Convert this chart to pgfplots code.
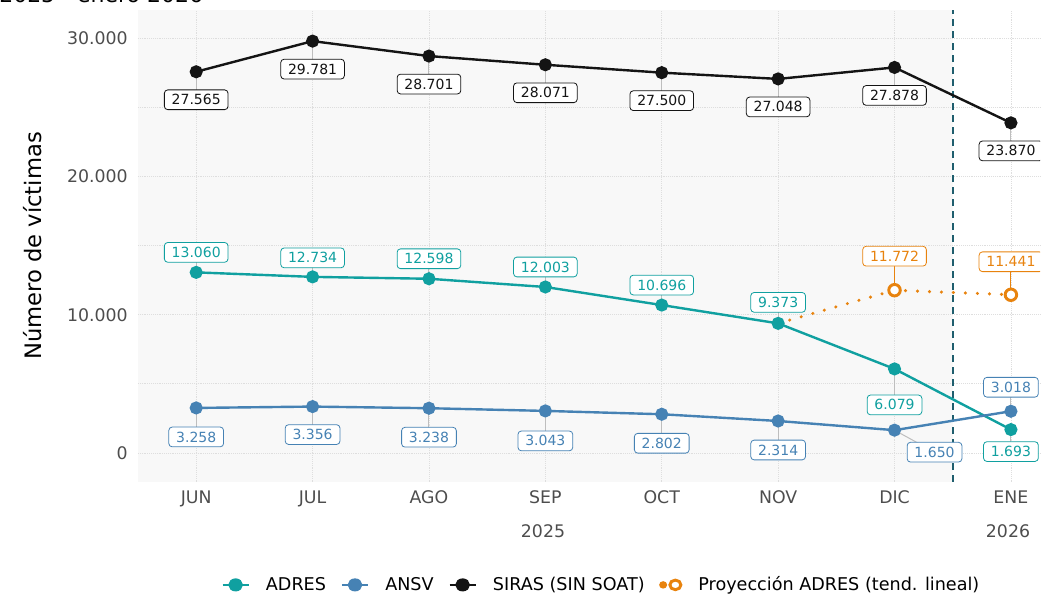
\documentclass[border=0pt]{standalone}
\usepackage{fontspec}
\setmainfont{DejaVu Sans}
\usepackage{pgfplots}
\pgfplotsset{compat=1.18}
\definecolor{adres}{RGB}{16,160,160}
\definecolor{ansv}{RGB}{70,130,180}
\definecolor{proy}{RGB}{232,131,14}
\definecolor{siras}{RGB}{20,20,20}
\definecolor{vlinec}{RGB}{31,94,110}
\definecolor{panel}{RGB}{248,248,248}
\definecolor{gridc}{RGB}{222,222,222}
\definecolor{tickc}{RGB}{77,77,77}
\definecolor{leader}{RGB}{190,190,190}
\tikzset{labbox/.style={fill=white, rounded corners=2.5pt, line width=0.6pt,
  inner xsep=5.5pt, inner ysep=3.6pt, text height=7.6pt, text depth=0pt,
  font=\fontsize{10.5}{12}\selectfont}}
% x, y, dx(px), dy(px), colour, leader colour, text
\newcommand\lab[7]{%
  \begin{pgfonlayer}{pre main}
  \draw[#6, line width=0.75pt] (axis cs:#1,#2) -- ([xshift=#3*0.75pt, yshift=#4*0.75pt]axis cs:#1,#2);
  \end{pgfonlayer}
  \node[labbox, draw=#5, text=#5, xshift=#3*0.75pt, yshift=#4*0.75pt] at (axis cs:#1,#2) {#7};
}
\begin{document}
\begin{tikzpicture}[x=0.75pt,y=0.75pt]
\begin{axis}[
  set layers,
  at={(103.5pt,84.75pt)}, anchor=south west,
  scale only axis, width=676.5pt, height=354pt,
  xmin=-0.5, xmax=7.25, ymin=-2097, ymax=32032,
  axis line style={draw=none}, tick style={draw=none},
  xtick={0,...,7}, xticklabels={JUN,JUL,AGO,SEP,OCT,NOV,DIC,ENE},
  ytick={0,10000,20000,30000}, minor ytick={5000,15000,25000},
  scaled y ticks=false,
  grid=both,
  major grid style={gridc, densely dotted, line width=0.6pt},
  minor grid style={gridc, densely dotted, line width=0.6pt},
  ticklabel style={font=\fontsize{13}{15}\selectfont, text=tickc},
  yticklabel style={/pgf/number format/1000 sep={.}, /pgf/number format/assume math mode=true, anchor=east, inner sep=0pt, xshift=-7.5pt},
  xticklabel style={anchor=north, inner sep=0pt, yshift=-6.5pt},
  legend columns=4,
  legend cell align=left,
  legend image post style={xscale=1.15},
  legend style={at={(0.514,-0.218)}, anchor=center, draw=none, fill=none,
    font=\fontsize{13.2}{15}\selectfont,
    /tikz/every odd column/.append style={column sep=10pt},
    /tikz/every even column/.append style={column sep=9pt}},
]
\begin{pgfonlayer}{axis background}
\fill[panel] (axis cs:-0.5,-2097) rectangle (axis cs:6.5,32032);
\end{pgfonlayer}
\draw[vlinec, line width=1.2pt, dash pattern=on 5pt off 4pt] (axis cs:6.5,-2097) -- (axis cs:6.5,32032);

\addplot[adres, line width=1.8pt, mark=*, mark size=4pt] coordinates {
(0,13060) (1,12734) (2,12598) (3,12003) (4,10696) (5,9373) (6,6079) (7,1693)};
\addlegendentry{ADRES}
\addplot[ansv, line width=1.8pt, mark=*, mark size=4pt] coordinates {
(0,3258) (1,3356) (2,3238) (3,3043) (4,2802) (5,2314) (6,1650) (7,3018)};
\addlegendentry{ANSV}
\addplot[siras, line width=1.8pt, mark=*, mark size=4pt] coordinates {
(0,27565) (1,29781) (2,28701) (3,28071) (4,27500) (5,27048) (6,27878) (7,23870)};
\addlegendentry{SIRAS (SIN SOAT)}
\addplot[proy, line width=2.6pt, line cap=round, dash pattern=on 0pt off 9pt,
  mark=*, mark indices={2,3}, mark size=4.3pt,
  mark options={solid, line width=2.2pt, fill=white, draw=proy},
  legend image code/.code={\fill[proy, solid] (0.12cm,0cm) circle (1.4pt);
    \draw[proy, solid, line width=2.2pt, fill=white] (0.4cm,0cm) circle (3.6pt);}]
  coordinates {(5,9373) (6,11772) (7,11441)};
\addlegendentry{Proyección ADRES (tend. lineal)}

\lab{0}{27565}{0}{-28}{siras}{leader}{27.565}
\lab{1}{29781}{0}{-28}{siras}{leader}{29.781}
\lab{2}{28701}{0}{-28}{siras}{leader}{28.701}
\lab{3}{28071}{0}{-28}{siras}{leader}{28.071}
\lab{4}{27500}{0}{-28}{siras}{leader}{27.500}
\lab{5}{27048}{0}{-28}{siras}{leader}{27.048}
\lab{6}{27878}{0}{-28}{siras}{leader}{27.878}
\lab{7}{23870}{0}{-28}{siras}{leader}{23.870}

\lab{0}{13060}{0}{20}{adres}{leader}{13.060}
\lab{1}{12734}{0}{19}{adres}{leader}{12.734}
\lab{2}{12598}{0}{20}{adres}{leader}{12.598}
\lab{3}{12003}{0}{20}{adres}{leader}{12.003}
\lab{4}{10696}{0}{20}{adres}{leader}{10.696}
\lab{5}{9373}{0}{21}{adres}{leader}{9.373}
\lab{6}{6079}{0}{-36}{adres}{leader}{6.079}
\lab{7}{1693}{0}{-22}{adres}{leader}{1.693}

\lab{0}{3258}{0}{-29}{ansv}{leader}{3.258}
\lab{1}{3356}{0}{-28}{ansv}{leader}{3.356}
\lab{2}{3238}{0}{-29}{ansv}{leader}{3.238}
\lab{3}{3043}{0}{-30}{ansv}{leader}{3.043}
\lab{4}{2802}{0}{-29}{ansv}{leader}{2.802}
\lab{5}{2314}{0}{-29}{ansv}{leader}{2.314}
\lab{6}{1650}{40}{-22}{ansv}{leader}{1.650}
\lab{7}{3018}{0}{24}{ansv}{leader}{3.018}

\lab{6}{11772}{0}{34}{proy}{proy}{11.772}
\lab{7}{11441}{0}{33}{proy}{proy}{11.441}
\end{axis}
\node[font=\fontsize{13}{15}\selectfont, text=tickc] at (543,64) {2025};
\node[font=\fontsize{13}{15}\selectfont, text=tickc] at (1008,64) {2026};
\node[rotate=90, font=\fontsize{17}{20}\selectfont] at (33,349) {Número de víctimas};
\node[anchor=base west, inner sep=0pt, font=\fontsize{16.5}{20}\selectfont] at (-1,592) {2025 - enero 2026};
\pgfresetboundingbox
\path (0,0) rectangle (1041,595);
\end{tikzpicture}
\end{document}
